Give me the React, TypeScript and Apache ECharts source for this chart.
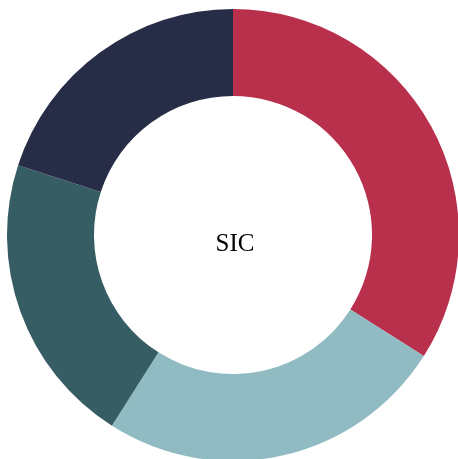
import React, { useEffect, useRef } from "react";
import * as echarts from "echarts";

const categories = ["A", "B", "C", "D"];
const values = [34, 25, 21, 20];
const colors = ["#b9304c", "#90bbc2", "#365d63", "#272c47"];
const centerLabel = "SIC";

export default function App() {
  const ref = useRef<HTMLDivElement>(null);
  useEffect(() => {
    if (!ref.current) return;
    const chart = echarts.init(ref.current, null, { renderer: "svg" });
    chart.setOption({
      animation: false,
      color: colors,
      graphic: [
        {
          type: "text",
          x: 235,
          y: 242,
          style: {
            text: centerLabel,
            font: "25px 'Liberation Serif', serif",
            fill: "#000",
            align: "center",
            verticalAlign: "middle",
          },
        },
      ],
      series: [
        {
          type: "pie",
          center: [233, 235],
          radius: [139, 226],
          startAngle: 90,
          clockwise: true,
          label: { show: false },
          labelLine: { show: false },
          silent: true,
          data: categories.map((c, i) => ({ name: c, value: values[i] })),
        },
      ],
    });
    return () => chart.dispose();
  }, []);
  return (
    <div
      ref={ref}
      style={{ position: "fixed", left: 0, top: 0, width: 458, height: 459 }}
    />
  );
}
